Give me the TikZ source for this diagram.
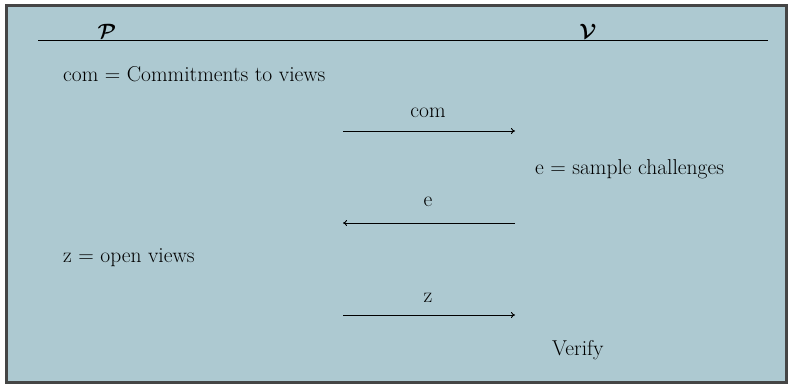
\documentclass[tikz,border=0pt]{standalone}
\usepackage{amsmath,bm}
\usetikzlibrary{arrows.meta}
\definecolor{panel}{HTML}{ADC9D1}
\definecolor{frame}{HTML}{454545}
\tikzset{
  txt/.style={anchor=base west, inner sep=0pt, font=\fontsize{21.5}{25}\selectfont},
  lbl/.style={anchor=base, inner sep=0pt, font=\fontsize{21.5}{25}\selectfont},
  party/.style={anchor=base, inner sep=0pt, font=\fontsize{20}{24}\selectfont},
  msg/.style={line width=0.9pt, -{To[length=4pt,width=6pt]}},
}
\begin{document}
\begin{tikzpicture}[x=1pt,y=-1pt]
\useasboundingbox[fill=white] (0,0) rectangle (790,385);
\draw[line width=3pt, draw=frame, fill=panel] (6.5,5.5) rectangle (786,382.5);
% header line
\coordinate (hl) at (38,40.5);
\coordinate (hr) at (768,40.5);
\draw[line width=0.9pt] (hl) -- (hr);
\node[party] (P) at (107,39) {$\bm{\mathcal{P}}$};
\node[party] (V) at (588,39) {$\bm{\mathcal{V}}$};
% texts
\node[txt] (t1) at (63,82) {com = Commitments to views};
\node[txt] (t2) at (535,175) {e = sample challenges};
\node[txt] (t3) at (63,262) {z = open views};
\node[txt] (t4) at (552,355) {Verify};
% messages
\coordinate (a1) at (343,131);
\coordinate (b1) at (515,131);
\draw[msg] (a1) -- (b1);
\node[lbl] (m1) at (428,118) {com};
\coordinate (a2) at (515,223);
\coordinate (b2) at (343,223);
\draw[msg] (a2) -- (b2);
\node[lbl] (m2) at (428,207) {e};
\coordinate (a3) at (343,315);
\coordinate (b3) at (515,315);
\draw[msg] (a3) -- (b3);
\node[lbl] (m3) at (428,302) {z};
\end{tikzpicture}
\end{document}
